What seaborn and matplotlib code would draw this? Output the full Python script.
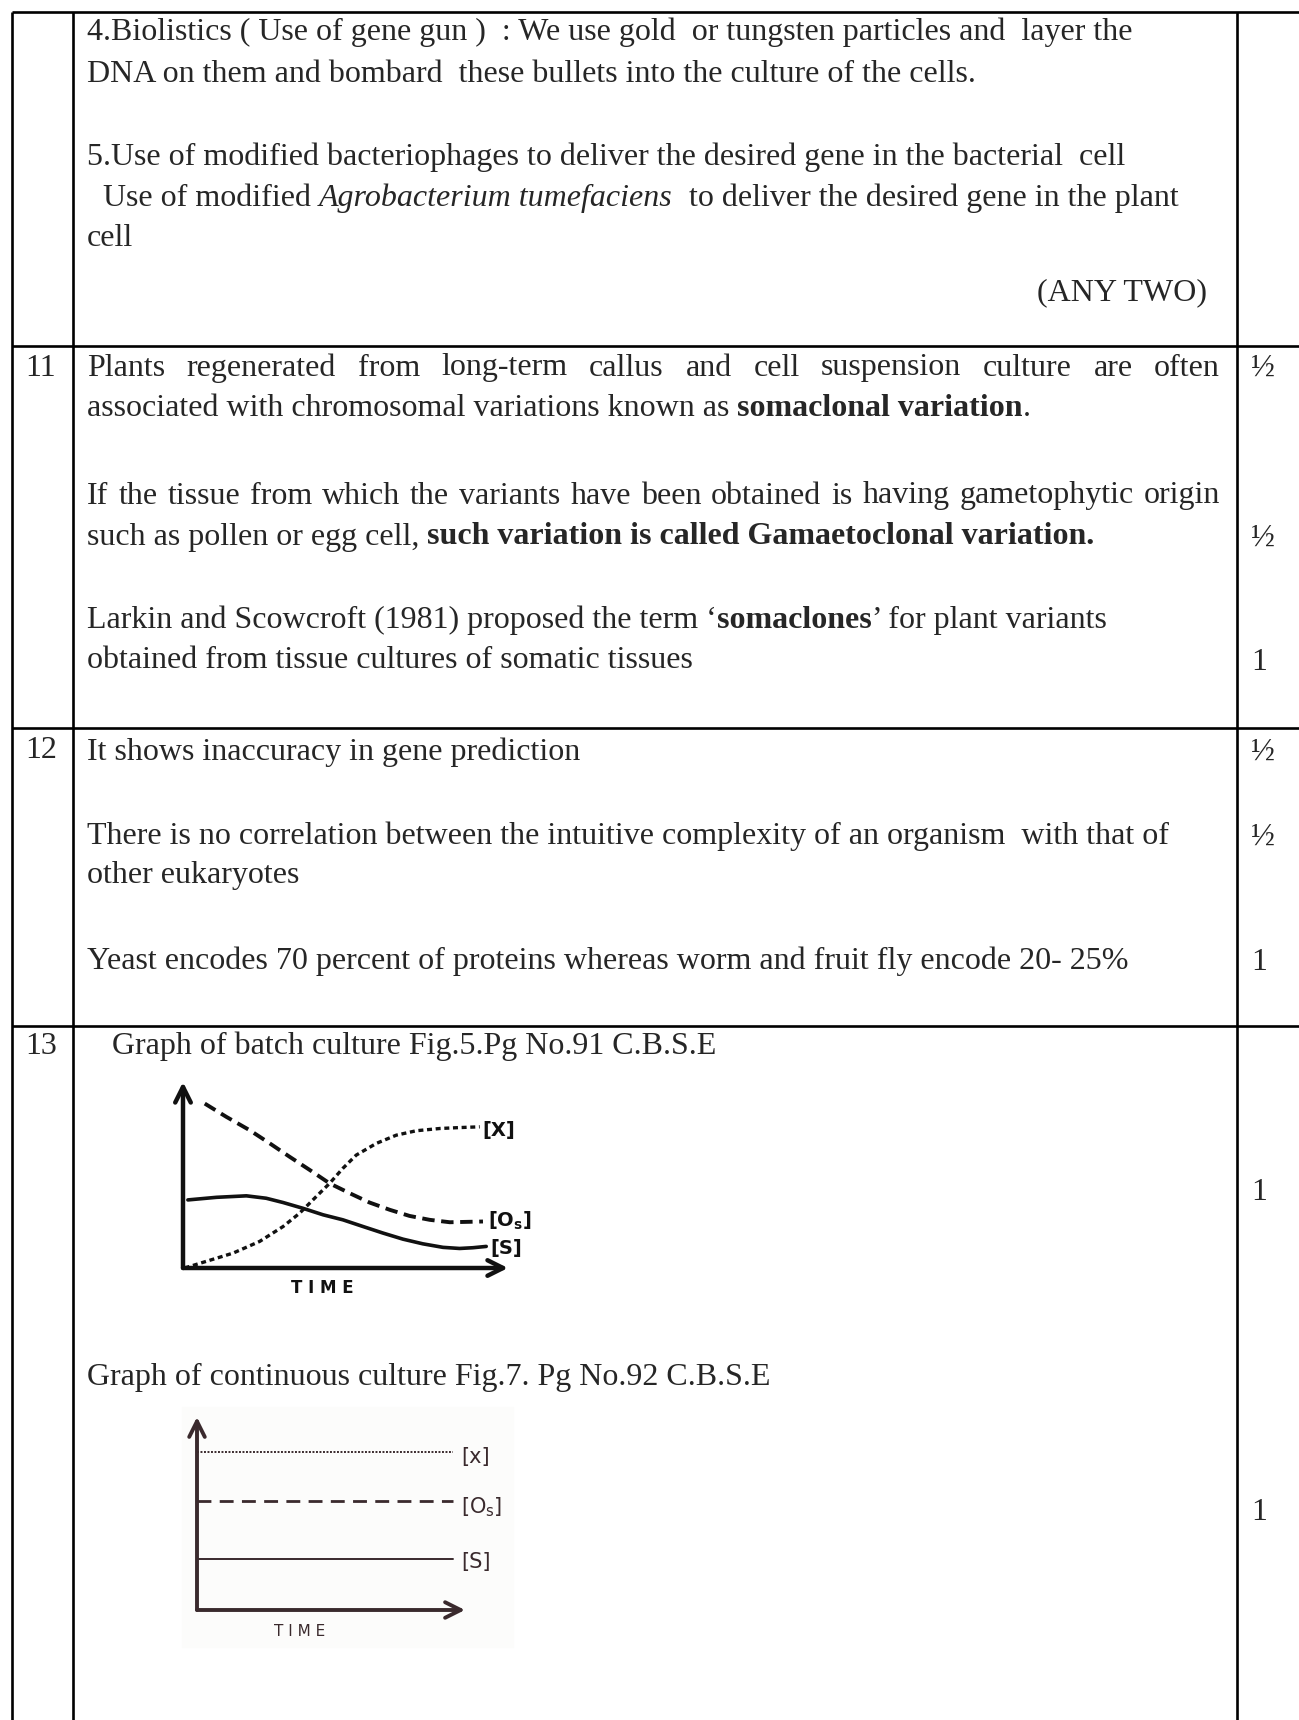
import numpy as np
import pandas as pd
import seaborn as sns
import matplotlib.pyplot as plt

sns.set_style("white")
plt.rcParams['font.family'] = ['Liberation Serif', 'DejaVu Serif']

# ---- data (time 0-10, level 0-10) ----
# batch culture
batch_os_t = [0.67, 1.33, 2.05, 2.67, 3.28, 3.90, 4.51, 5.13, 5.74, 6.36, 6.97, 7.59, 8.21, 9.23]
batch_os_y = [8.84, 8.13, 7.41, 6.70, 5.98, 5.27, 4.55, 4.02, 3.52, 3.13, 2.80, 2.59, 2.46, 2.50]
batch_x_t = [0.05, 0.72, 1.54, 2.36, 3.08, 3.59, 4.10, 4.51, 4.92, 5.33, 5.95, 6.56, 7.18, 7.90, 8.51, 9.13]
batch_x_y = [0.00, 0.36, 0.80, 1.43, 2.23, 2.95, 3.84, 4.55, 5.36, 6.07, 6.70, 7.14, 7.38, 7.50, 7.55, 7.59]
batch_s_t = [0.15, 1.03, 1.95, 2.56, 3.08, 3.69, 4.31, 4.92, 5.54, 6.15, 6.77, 7.38, 8.00, 8.51, 8.92, 9.33]
batch_s_y = [3.66, 3.80, 3.88, 3.75, 3.52, 3.21, 2.86, 2.59, 2.23, 1.88, 1.55, 1.30, 1.11, 1.05, 1.09, 1.16]
# continuous culture (steady state)
cont_t = [0.0, 9.55]
cont_x = [8.19, 8.19]
cont_os = [5.65, 5.65]
cont_s = [2.64, 2.64]

# marks column
marks = ['½', '½', '1', '½', '½', '1', '1', '1']
row_numbers = ['11', '12', '13']

W, H = 1299, 1720
fig = plt.figure(figsize=(W / 100, H / 100), dpi=100)
page = fig.add_axes([0, 0, 1, 1])
page.set_xlim(0, W)
page.set_ylim(H, 0)
page.axis('off')
renderer = fig.canvas.get_renderer()

FS = 23
LW = 1.9

# table grid
for y in [12, 346, 728, 1026]:
    page.plot([12, W], [y, y], color='black', lw=LW, solid_capstyle='butt')
for x in [12, 73, 1237]:
    page.plot([x, x], [12, H], color='black', lw=LW, solid_capstyle='butt')


def width_of(s, weight, style):
    t = page.text(0, 0, s, fontsize=FS, fontweight=weight, fontstyle=style)
    w = t.get_window_extent(renderer).width
    t.remove()
    return w


def runs_line(x, y, runs, right=None):
    # runs: list of (text, weight, style); if right is given the words are justified
    if right is None:
        for s, wt, st in runs:
            page.text(x, y, s, fontsize=FS, fontweight=wt, fontstyle=st, va='center')
            x += width_of(s, wt, st)
        return
    words = []
    for s, wt, st in runs:
        for wd in s.split():
            words.append((wd, wt, st))
    widths = [width_of(wd, wt, st) for wd, wt, st in words]
    gap = (right - x - sum(widths)) / (len(words) - 1)
    for (wd, wt, st), w in zip(words, widths):
        page.text(x, y, wd, fontsize=FS, fontweight=wt, fontstyle=st, va='center')
        x += w + gap


N = ('normal', 'normal')
B = ('bold', 'normal')
I = ('normal', 'italic')
TX = 87

runs_line(TX, 32, [('4.Biolistics ( Use of gene gun )  : We use gold  or tungsten particles and  layer the', *N)])
runs_line(TX, 75, [('DNA on them and bombard  these bullets into the culture of the cells.', *N)])
runs_line(TX, 157, [('5.Use of modified bacteriophages to deliver the desired gene in the bacterial  cell', *N)])
runs_line(TX, 198, [('  Use of modified ', *N), ('Agrobacterium tumefaciens', *I),
                    ('  to deliver the desired gene in the plant', *N)])
runs_line(TX, 238, [('cell', *N)])
page.text(1207, 293, '(ANY TWO)', fontsize=FS, ha='right', va='center')

runs_line(TX, 368, [('Plants regenerated from long-term callus and cell suspension culture are often', *N)], right=1220)
runs_line(TX, 408, [('associated with chromosomal variations known as ', *N), ('somaclonal variation', *B), ('.', *N)])
runs_line(TX, 496, [('If the tissue from which the variants have been obtained is having gametophytic origin', *N)],
          right=1220)
runs_line(TX, 537, [('such as pollen or egg cell, ', *N), ('such variation is called Gamaetoclonal variation.', *B)])
runs_line(TX, 620, [('Larkin and Scowcroft (1981) proposed the term \u2018', *N), ('somaclones', *B),
                    ('\u2019 for plant variants', *N)])
runs_line(TX, 660, [('obtained from tissue cultures of somatic tissues', *N)])

runs_line(TX, 752, [('It shows inaccuracy in gene prediction', *N)])
runs_line(TX, 836, [('There is no correlation between the intuitive complexity of an organism  with that of', *N)])
runs_line(TX, 876, [('other eukaryotes', *N)])
runs_line(TX, 961, [('Yeast encodes 70 percent of proteins whereas worm and fruit fly encode 20- 25%', *N)])

runs_line(112, 1046, [('Graph of batch culture Fig.5.Pg No.91 C.B.S.E', *N)])
runs_line(TX, 1377, [('Graph of continuous culture Fig.7. Pg No.92 C.B.S.E', *N)])

for num, y in zip(row_numbers, [368, 751, 1046]):
    page.text(41, y, num, fontsize=FS, ha='center', va='center')
for m, y in zip(marks, [368, 538, 663, 752, 837, 962, 1193, 1512]):
    page.text(1251, y, m, fontsize=FS, ha='left', va='center')


def inset(x0, y_top, x1, y_bot):
    ax = fig.add_axes([x0 / W, 1 - y_bot / H, (x1 - x0) / W, (y_bot - y_top) / H])
    ax.set_xlim(0, 10)
    ax.set_ylim(0, 10)
    ax.axis('off')
    return ax


def draw_axes(ax, col, lw):
    arrow = dict(arrowstyle='->', lw=lw, color=col, mutation_scale=28, shrinkA=0, shrinkB=0)
    ax.annotate('', xy=(0, 10), xytext=(0, 0), arrowprops=arrow, annotation_clip=False)
    ax.annotate('', xy=(10, 0), xytext=(0, 0), arrowprops=arrow, annotation_clip=False)


hand = dict(family='DejaVu Sans', fontweight='bold')

# batch culture graph
g1 = inset(183, 1082, 508, 1268)
ink = '#111111'
draw_axes(g1, ink, 3.2)
sns.lineplot(x=batch_os_t, y=batch_os_y, ax=g1, color=ink, lw=2.8, sort=False, linestyle=(0, (3.2, 1.7)))
sns.lineplot(x=batch_x_t, y=batch_x_y, ax=g1, color=ink, lw=2.4, sort=False, linestyle=(0, (1.5, 1.1)))
sns.lineplot(x=batch_s_t, y=batch_s_y, ax=g1, color=ink, lw=2.6, sort=False)
g1.text(9.2, 7.4, '[X]', fontsize=14, color=ink, va='center', **hand)
g1.text(9.4, 2.55, r'[$\mathbf{O_s}$]', fontsize=14, color=ink, va='center', **hand)
g1.text(9.45, 1.05, '[S]', fontsize=14, color=ink, va='center', **hand)
page.text(322, 1288, 'T I M E', fontsize=12, color=ink, ha='center', va='center', **hand)

# continuous culture graph (photo with a barely visible background)
page.add_patch(plt.Rectangle((182, 1407), 331, 240, color='#fcfcfb', zorder=0))
g2 = inset(197, 1417, 465, 1610)
ink2 = '#3a2a2d'
draw_axes(g2, ink2, 2.8)
sns.lineplot(x=cont_t, y=cont_x, ax=g2, color=ink2, lw=1.4, linestyle=(0, (1.0, 0.8)))
sns.lineplot(x=cont_t, y=cont_os, ax=g2, color=ink2, lw=2.0, linestyle=(0, (5, 3)))
sns.lineplot(x=cont_t, y=cont_s, ax=g2, color=ink2, lw=1.4)
g2.text(9.85, 7.93, '[x]', fontsize=15, color=ink2, va='center', family='DejaVu Sans')
g2.text(9.85, 5.34, r'[$\mathrm{O_s}$]', fontsize=15, color=ink2, va='center', family='DejaVu Sans')
g2.text(9.85, 2.49, '[S]', fontsize=15, color=ink2, va='center', family='DejaVu Sans')
page.text(300, 1632, 'T I M E', fontsize=11, color=ink2, ha='center', va='center', family='DejaVu Sans')

fig.savefig('out.png', dpi=100)
